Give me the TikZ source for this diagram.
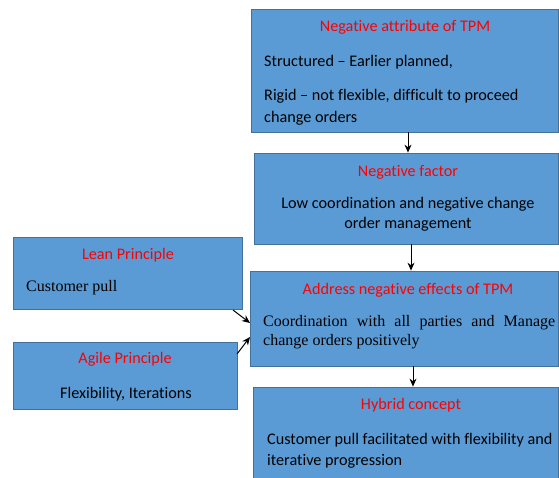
\documentclass[tikz,border=0pt]{standalone}
\usepackage{fontspec}
\setmainfont[Ligatures=NoCommon]{Carlito}
\newfontfamily\timesfont{Liberation Serif}
\usetikzlibrary{arrows.meta}
\definecolor{boxfill}{HTML}{5B9BD5}
\definecolor{boxline}{HTML}{41719C}
\definecolor{headred}{HTML}{FF0000}
\tikzset{
  box/.style={draw=boxline, line width=0.8pt, fill=boxfill, inner sep=0pt},
  head/.style={text=headred, font=\fontsize{16.2}{19}\selectfont, inner sep=0pt, anchor=center},
  body/.style={text=black, font=\fontsize{16.2}{19}\selectfont, inner sep=0pt},
  tbody/.style={text=black, font=\timesfont\fontsize{16}{19}\selectfont, inner sep=0pt},
  arr/.style={-{Stealth[length=8pt,width=7pt]}, line width=1pt, black}
}
\begin{document}
\begin{tikzpicture}[x=1pt,y=-1pt]
\useasboundingbox (0,0) rectangle (559,477);
\clip (0,0) rectangle (559,477);
% boxes
\node[box, minimum width=307pt, minimum height=123pt] (b1) at (404.5,70.5) {};
\node[box, minimum width=304pt, minimum height=91pt] (b2) at (406,198.5) {};
\node[box, minimum width=308pt, minimum height=95pt] (b3) at (404,318.5) {};
\node[box, minimum width=305pt, minimum height=95pt] (b4) at (405.5,434.5) {};
\node[box, minimum width=229pt, minimum height=72pt] (lean) at (127.5,273) {};
\node[box, minimum width=224pt, minimum height=67pt] (agile) at (125,375.5) {};
% box 1 text
\node[head] (h1) at (405,27.5) {Negative attribute of TPM};
\node[body, anchor=west] (t1a) at (264,62.5) {Structured -- Earlier planned,};
\node[body, anchor=west] (t1b) at (264,96.5) {Rigid -- not flexible, difficult to proceed};
\node[body, anchor=west] (t1c) at (264,118.5) {change orders};
% box 2 text
\node[head] (h2) at (408,172.5) {Negative factor};
\node[body] (t2a) at (408,204.5) {Low coordination and negative change};
\node[body] (t2b) at (408,224.5) {order management};
% box 3 text
\node[head] (h3) at (408,290.5) {Address negative effects of TPM};
\node[tbody, anchor=west] (t3a) at (263,323) {\makebox[292pt][s]{Coordination with all parties and Manage}};
\node[tbody, anchor=west] (t3b) at (263,342) {change orders positively};
% box 4 text
\node[head] (h4) at (411,405.5) {Hybrid concept};
\node[body, anchor=west] (t4a) at (267,440.5) {Customer pull facilitated with flexibility and};
\node[body, anchor=west] (t4b) at (267,461.5) {iterative progression};
% lean text
\node[head] (hl) at (128,255.5) {Lean Principle};
\node[tbody, anchor=west] (tl) at (26,288) {Customer pull};
% agile text
\node[head] (ha) at (125,359.5) {Agile Principle};
\node[body] (ta) at (126,394.5) {Flexibility, Iterations};
% connectors
\coordinate (x1) at (408,0);
\coordinate (x2) at (411,0);
\coordinate (x3) at (413,0);
\draw[arr] (b1.south -| x1) -- (b2.north -| x1);
\draw[arr] (b2.south -| x2) -- (b3.north -| x2);
\draw[arr] (b3.south -| x3) -- (b4.north -| x3);
\coordinate (lt) at (233,310);
\coordinate (lh) at (250,323);
\coordinate (at) at (237,354);
\coordinate (ah) at (250,337);
\draw[arr] (lt) -- (lh);
\draw[arr] (at) -- (ah);
\end{tikzpicture}
\end{document}
